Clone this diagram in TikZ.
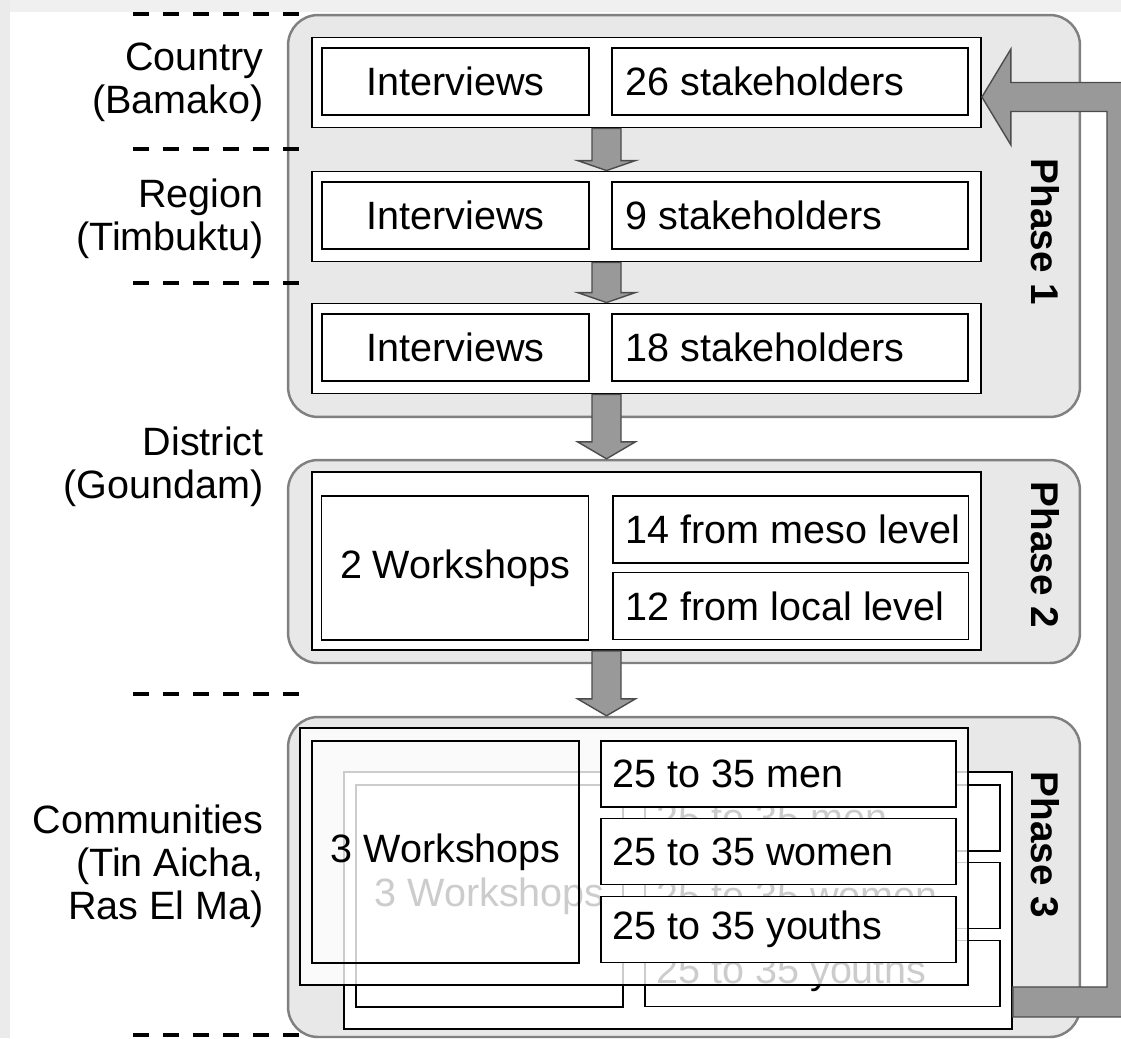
\documentclass[tikz,border=0pt]{standalone}
\usepackage{fontspec}
\setmainfont{Liberation Sans}
\usepackage{tikz}
\usetikzlibrary{calc}

\newcommand{\flowdown}[3][0.34cm]{%
  \draw[flow] let \p1=(axis |- #2.south), \p2=(axis |- #3.north) in
    (\x1-0.29cm,\y1) -- (\x1-0.29cm,\y2+#1) -- (\x1-0.58cm,\y2+#1) -- (\x2,\y2)
    -- (\x1+0.58cm,\y2+#1) -- (\x1+0.29cm,\y2+#1) -- (\x1+0.29cm,\y1) -- cycle;}

\begin{document}
\begin{tikzpicture}[x=0.02cm,y=-0.02cm,font=\fontsize{22.5}{24}\selectfont]

  \tikzstyle{phase}=[draw=black!50,line width=1.4pt,fill=black!9,rounded corners=0.6cm,minimum width=15.84cm]
  \tikzstyle{phase label}=[rotate=-90,font=\bfseries\fontsize{22}{24}\selectfont]
  \tikzstyle{frame}=[draw,line width=1.1pt,fill=white,inner sep=0pt,minimum width=13.38cm,minimum height=1.8cm]
  \tikzstyle{box}=[draw,line width=1.1pt,fill=white,inner sep=0pt,minimum height=1.34cm,text opacity=1]
  \tikzstyle{task}=[box,minimum width=5.34cm]
  \tikzstyle{crowd}=[box,minimum width=7.12cm]
  \tikzstyle{tally}=[anchor=west,inner xsep=0.28cm]
  \tikzstyle{tier}=[anchor=east,align=right,inner sep=0pt,font=\fontsize{22.5}{24.5}\selectfont]
  \tikzstyle{flow}=[draw=black!70,line width=0.8pt,fill=black!40]
  \tikzstyle{border}=[line width=0.08cm,dash pattern=on 0.32cm off 0.28cm]

  \fill[black!6] (0,0) rectangle (1121,12);
  \fill[black!8] (0,0) rectangle (10,1038);
  \useasboundingbox (0,0) rectangle (1121,1038);

  \node[phase,minimum height=8.04cm] (p1) at (684,216)   {};
  \node[phase,minimum height=4.06cm] (p2) at (684,561.5) {};
  \node[phase,minimum height=6.4cm]  (p3) at (684,877)   {};
  \node[phase label] (ph1) at (1045,232) {Phase 1};
  \node[phase label] (ph2) at (1045,555) {Phase 2};
  \node[phase label] (ph3) at (1045,845) {Phase 3};

  \node[tier] (country)     at (264,82)  {Country\\(Bamako)};
  \node[tier] (region)      at (264,219) {Region\\(Timbuktu)};
  \node[tier] (district)    at (264,467) {District\\(Goundam)};
  \node[tier] (communities) at (264,866) {Communities\\(Tin Aicha,\\Ras El Ma)};

  \foreach \y in {14,149,283,694,1035}
    \draw[border] (133,\y) -- (310,\y);

  % interviews
  \foreach \row/\y/\k in {1/82.5/26, 2/216.5/9, 3/348.5/18} {
    \node[frame] (row\row) at (646.5,\y) {};
    \node[task]  (int\row) at (455.5,\y-1) {Interviews};
    \node[crowd,label={[tally]west:\k\ stakeholders}] (sh\row) at (790,\y-1) {};
  }

  % district workshops
  \node[frame,minimum height=3.56cm] (row4) at (646.5,561) {};
  \node[task,minimum height=2.88cm] (ws2) at (455,568) {2 Workshops};
  \node[crowd,label={[tally]west:14 from meso level}]  (meso)  at (790.5,529.5) {};
  \node[crowd,label={[tally]west:12 from local level}] (local) at (790.5,606) {};

  % community workshops, one sheet behind the other
  \foreach \layer/\d/\cop/\bop in {back/44/1/1, front/0/0.8/0} {
    \begin{scope}[shift={(\d,\d)}]
      \node[frame,fill opacity=\cop,minimum width=13.36cm,minimum height=5.14cm] (sheet-\layer) at (634,856.5) {};
      \node[task,fill opacity=\bop,minimum height=4.44cm] (ws-\layer) at (445.5,852) {3 Workshops};
      \node[crowd,minimum width=7.1cm,minimum height=1.32cm,label={[tally,inner xsep=0.24cm]west:25 to 35 men}]    (men-\layer)    at (778.5,774)   {};
      \node[crowd,minimum width=7.1cm,minimum height=1.32cm,label={[tally,inner xsep=0.24cm]west:25 to 35 women}]  (women-\layer)  at (778.5,851.5) {};
      \node[crowd,minimum width=7.1cm,minimum height=1.32cm,label={[tally,inner xsep=0.24cm]west:25 to 35 youths}] (youths-\layer) at (778.5,929.5) {};
    \end{scope}
  }

  \coordinate (axis) at (606.5,0);
  \flowdown[0.2cm]{row1}{row2}
  \flowdown[0.2cm]{row2}{row3}
  \flowdown{row3}{p2}
  \flowdown{row4}{p3}

  % feedback from the communities back to Bamako
  \coordinate (rail) at (1122,0);
  \draw[flow] let \p1=([yshift=0.56cm]sheet-back.south east), \p2=([yshift=-0.29cm]row1.east), \p3=(rail) in
    (\x1,\y1+0.3cm) -- (\x3-0.3cm,\y1+0.3cm) -- (\x3-0.3cm,\y2-0.29cm) -- (\x2+0.58cm,\y2-0.29cm)
    -- (\x2+0.58cm,\y2-0.96cm) -- (\x2,\y2) -- (\x2+0.58cm,\y2+0.96cm) -- (\x2+0.58cm,\y2+0.29cm)
    -- (\x3+0.3cm,\y2+0.29cm) -- (\x3+0.3cm,\y1-0.3cm) -- (\x1,\y1-0.3cm) -- cycle;

\end{tikzpicture}
\end{document}
